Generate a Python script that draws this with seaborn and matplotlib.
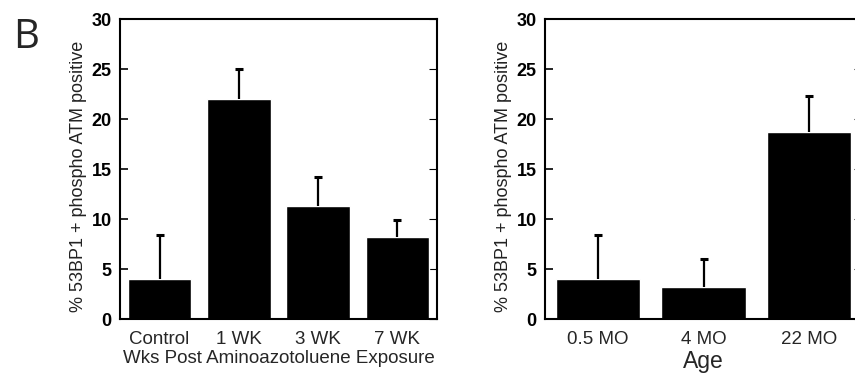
import matplotlib
matplotlib.use("Agg")
import matplotlib.pyplot as plt
import numpy as np
import pandas as pd
import seaborn as sns

# values
exposure_labels = ["Control", "1 WK", "3 WK", "7 WK"]
exposure_means = [4.0, 22.0, 11.3, 8.2]
exposure_err = [4.4, 3.0, 2.9, 1.7]

age_labels = ["0.5 MO", "4 MO", "22 MO"]
age_means = [4.0, 3.2, 18.7]
age_err = [4.4, 2.8, 3.6]

y_ticks = [0, 5, 10, 15, 20, 25, 30]
ylabel = "% 53BP1 + phospho ATM positive"

sns.set_theme(style="white")
plt.rcParams["font.family"] = ["Liberation Sans", "DejaVu Sans"]


def bar_panel(ax, labels, means, err, xlabel, xlabel_size):
    df = pd.DataFrame({"group": labels, "value": means})
    sns.barplot(data=df, x="group", y="value", color="black", saturation=1,
                width=0.8, errorbar=None, ax=ax)
    _, caps, _ = ax.errorbar(np.arange(len(labels)), means,
                             yerr=[np.zeros(len(err)), err], fmt="none",
                             ecolor="black", elinewidth=1.6, capsize=3, capthick=2.2)
    caps[0].set_visible(False)  # only the upper cap shows
    ax.set_xlim(-0.5, len(labels) - 0.5)
    ax.set_ylim(0, 30)
    ax.set_yticks(y_ticks)
    ax.set_yticklabels([str(t) for t in y_ticks], fontweight="bold", fontsize=13)
    ax.tick_params(axis="y", direction="in", length=6, width=1.2, pad=6,
                   left=True, right=True, colors="black")
    for t in ax.yaxis.get_major_ticks():
        t.tick2line.set_color("#999999")
        t.tick2line.set_markeredgewidth(0.8)
    ax.tick_params(axis="x", length=0, pad=9, labelsize=13.5)
    for s in ax.spines.values():
        s.set_visible(True)
        s.set_linewidth(1.5)
        s.set_color("black")
    ax.set_xlabel(xlabel, fontsize=xlabel_size, labelpad=1)
    ax.set_ylabel(ylabel, fontsize=13, color="#222222")
    ax.yaxis.set_label_coords(-0.105, 0.477)


fig = plt.figure(figsize=(8.55, 3.75), dpi=100)
ax1 = fig.add_axes([120 / 855, 56 / 375, 317 / 855, 300 / 375])
ax2 = fig.add_axes([545 / 855, 56 / 375, 317 / 855, 300 / 375])

bar_panel(ax1, exposure_labels, exposure_means, exposure_err,
          "Wks Post Aminoazotoluene Exposure", 13.5)
bar_panel(ax2, age_labels, age_means, age_err, "Age", 16.5)

fig.text(0.03, 0.9, "B", fontsize=29, ha="center", va="center",
         family=["Open Sans", "DejaVu Sans"])

fig.savefig("out.png", dpi=100)
